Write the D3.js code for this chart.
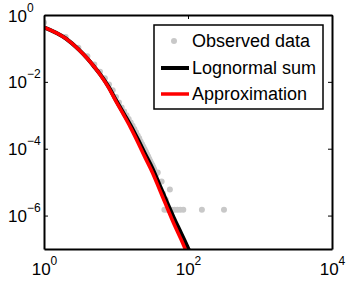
<!DOCTYPE html>
<html>
<head>
<meta charset="utf-8">
<script src="https://cdn.jsdelivr.net/npm/d3@7"></script>
<style>
  html, body { margin: 0; padding: 0; background: #fff; }
  svg { display: block; font-family: "Liberation Sans", Arial, Helvetica, sans-serif; }
</style>
</head>
<body>
<svg id="chart" width="346" height="284"></svg>
<script>
// observed empirical pmf
const obsX = [1, 2, 3, 4, 5, 6, 7, 8, 9, 10, 11, 12, 13, 14, 15, 16, 17, 18, 19, 20,
  21, 22, 23, 24, 25, 26, 27, 28, 29, 30, 31, 32, 33, 34, 36, 38, 43, 45, 49, 56,
  47, 51, 55, 60, 65, 71, 78, 86, 156, 316];
const obsY = [0.60, 0.22, 0.105, 0.058, 0.033, 0.020, 0.0128, 0.0083, 0.0056, 0.0035,
  0.0024, 0.0017, 0.0013, 0.00100, 7.8e-4, 6.1e-4, 4.9e-4, 3.9e-4, 3.1e-4, 2.5e-4,
  2.05e-4, 1.65e-4, 1.37e-4, 1.14e-4, 9.6e-5, 8.1e-5, 6.8e-5, 5.8e-5, 4.9e-5, 4.2e-5,
  3.6e-5, 3.2e-5, 2.8e-5, 2.4e-5, 1.7e-5, 1.95e-5, 1.05e-5, 4.5e-6, 3.0e-6, 6.0e-6,
  1.5e-6, 1.5e-6, 1.5e-6, 1.5e-6, 1.5e-6, 1.5e-6, 1.5e-6, 1.5e-6, 1.5e-6, 1.5e-6];

// lognormal sum (black) and approximation (red)
const curveX = [1, 2, 3, 4, 5, 6, 8, 10, 13, 16, 20, 25, 32, 40, 50, 63, 80, 100, 110];
const lognormY = [0.43, 0.20, 0.095, 0.05, 0.028, 0.017, 0.0068, 0.0028, 0.00106, 4.9e-4,
  1.95e-4, 7.4e-5, 2.6e-5, 8.5e-6, 2.75e-6, 8.9e-7, 3.0e-7, 1.07e-7, 6.9e-8];
const approxY = [0.43, 0.20, 0.095, 0.05, 0.028, 0.0165, 0.0064, 0.0026, 9.6e-4, 4.2e-4,
  1.6e-4, 5.8e-5, 1.95e-5, 6.2e-6, 1.95e-6, 6.0e-7, 1.95e-7, 6.5e-8, 4.2e-8];

const xTicks = [1, 1e2, 1e4];
const yTicks = [1, 1e-2, 1e-4, 1e-6];
const xTickExp = ['0', '2', '4'];
const yTickExp = ['0', '\u22122', '\u22124', '\u22126'];

const legendLabels = ['Observed data', 'Lognormal sum', 'Approximation'];

const GRAY = '#c8c8c8';
const M = { top: 15, right: 14, bottom: 35, left: 44 };
const W = 346, H = 284;

const svg = d3.select('#chart');

const x = d3.scaleLog().domain([1, 1e4]).range([M.left, W - M.right]);
const y = d3.scaleLog().domain([1e-7, 1]).range([H - M.bottom, M.top]);

svg.append('defs').append('clipPath').attr('id', 'plot-clip')
  .append('rect')
  .attr('x', M.left).attr('y', M.top)
  .attr('width', W - M.left - M.right).attr('height', H - M.top - M.bottom);

const plot = svg.append('g').attr('clip-path', 'url(#plot-clip)');

// observed points
plot.selectAll('.obs')
  .data(obsX.map((v, i) => [v, obsY[i]]))
  .join('circle')
  .attr('class', 'obs')
  .attr('cx', d => x(d[0]))
  .attr('cy', d => y(d[1]))
  .attr('r', 3)
  .attr('fill', GRAY);

const line = d3.line().x(d => x(d[0])).y(d => y(d[1])).curve(d3.curveMonotoneX);

plot.append('path')
  .datum(curveX.map((v, i) => [v, lognormY[i]]))
  .attr('d', line)
  .attr('fill', 'none').attr('stroke', '#000').attr('stroke-width', 4);

plot.append('path')
  .datum(curveX.map((v, i) => [v, approxY[i]]))
  .attr('d', line)
  .attr('fill', 'none').attr('stroke', '#ff0000').attr('stroke-width', 3.5);

// frame + ticks
function frame(axis, tx, ty) {
  const g = svg.append('g')
    .attr('transform', `translate(${tx},${ty})`)
    .call(axis);
  g.select('.domain').attr('stroke', '#000').attr('stroke-width', 2);
  g.selectAll('.tick line').attr('stroke', '#000').attr('stroke-width', 1);
  return g;
}

const bottomG = frame(d3.axisBottom(x).tickValues(xTicks).tickSizeInner(-4).tickSizeOuter(0)
  .tickFormat(() => ''), 0, H - M.bottom);
frame(d3.axisTop(x).tickValues(xTicks).tickSizeInner(-4).tickSizeOuter(0)
  .tickFormat(() => ''), 0, M.top);
const leftG = frame(d3.axisLeft(y).tickValues(yTicks).tickSizeInner(-4).tickSizeOuter(0)
  .tickFormat(() => ''), M.left, 0);
frame(d3.axisRight(y).tickValues(yTicks).tickSizeInner(-4).tickSizeOuter(0)
  .tickFormat(() => ''), W - M.right, 0);

// x tick labels: 10^n centred under tick
bottomG.selectAll('.tick').each(function (d, i) {
  const t = d3.select(this).select('text')
    .attr('fill', '#000').attr('font-size', 17).attr('text-anchor', 'middle')
    .attr('y', 26).attr('dy', 0);
  t.append('tspan').text('10');
  t.append('tspan').attr('font-size', 12).attr('dy', -10).text(xTickExp[i]);
});

// y tick labels: base "10" at fixed place, exponent appended
leftG.selectAll('.tick').each(function (d, i) {
  const t = d3.select(this).select('text')
    .attr('fill', '#000').attr('font-size', 17).attr('text-anchor', 'start')
    .attr('x', -36).attr('dy', 0).attr('y', 6);
  t.append('tspan').text('10');
  t.append('tspan').attr('font-size', 12).attr('dy', -10).text(yTickExp[i]);
});

// legend
const lg = svg.append('g').attr('transform', 'translate(154,25)');
lg.append('rect')
  .attr('width', 169).attr('height', 84)
  .attr('fill', '#fff').attr('stroke', '#000').attr('stroke-width', 1.5);

const rowY = [16, 43, 69];
lg.append('circle').attr('cx', 20).attr('cy', rowY[0]).attr('r', 3).attr('fill', GRAY);
lg.append('line').attr('x1', 7).attr('x2', 35).attr('y1', rowY[1]).attr('y2', rowY[1])
  .attr('stroke', '#000').attr('stroke-width', 4);
lg.append('line').attr('x1', 7).attr('x2', 35).attr('y1', rowY[2]).attr('y2', rowY[2])
  .attr('stroke', '#ff0000').attr('stroke-width', 3.5);

lg.selectAll('.lab')
  .data(legendLabels)
  .join('text')
  .attr('class', 'lab')
  .attr('x', 38)
  .attr('y', (d, i) => rowY[i] + 6)
  .attr('font-size', 18)
  .attr('fill', '#000')
  .text(d => d);
</script>
</body>
</html>
